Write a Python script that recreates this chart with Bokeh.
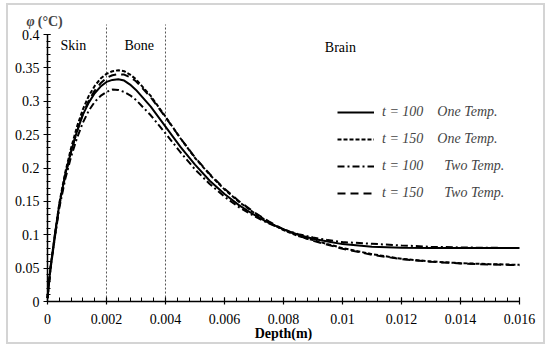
from bokeh.plotting import figure
from bokeh.models import Range1d, FixedTicker, Label
from bokeh.core.properties import value
from bokeh.embed import file_html
from bokeh.resources import INLINE

# ---------------- data ----------------
depth = [0, 0.0001, 0.00025, 0.0004, 0.0006, 0.0008, 0.001, 0.0012, 0.0014, 0.0016,
         0.0018, 0.002, 0.0022, 0.0024, 0.0026, 0.0028, 0.003, 0.0035, 0.004, 0.0045,
         0.005, 0.0055, 0.006, 0.0065, 0.007, 0.0075, 0.008, 0.0085, 0.009, 0.0095,
         0.01, 0.011, 0.012, 0.013, 0.014, 0.015, 0.016]

one_t100 = [0.005, 0.05, 0.10, 0.145, 0.19, 0.225, 0.255, 0.28, 0.298, 0.312,
            0.322, 0.329, 0.332, 0.333, 0.331, 0.325, 0.317, 0.292, 0.262, 0.232,
            0.205, 0.181, 0.161, 0.144, 0.130, 0.118, 0.108, 0.100, 0.094, 0.090,
            0.086, 0.082, 0.0805, 0.080, 0.080, 0.080, 0.080]

one_t150 = [0.005, 0.05, 0.10, 0.147, 0.193, 0.23, 0.262, 0.288, 0.308, 0.323,
            0.334, 0.341, 0.345, 0.3465, 0.345, 0.34, 0.333, 0.308, 0.277, 0.245,
            0.215, 0.19, 0.168, 0.149, 0.133, 0.119, 0.107, 0.098, 0.092, 0.086,
            0.080, 0.071, 0.064, 0.060, 0.0575, 0.056, 0.055]

two_t100 = [0.005, 0.048, 0.096, 0.14, 0.183, 0.217, 0.245, 0.268, 0.286, 0.299,
            0.308, 0.314, 0.3175, 0.317, 0.314, 0.309, 0.302, 0.279, 0.252, 0.224,
            0.198, 0.176, 0.157, 0.141, 0.128, 0.117, 0.108, 0.101, 0.096, 0.092,
            0.089, 0.0865, 0.084, 0.082, 0.081, 0.0805, 0.080]

two_t150 = [0.005, 0.048, 0.097, 0.143, 0.188, 0.224, 0.255, 0.281, 0.301, 0.316,
            0.327, 0.335, 0.339, 0.3405, 0.340, 0.336, 0.330, 0.306, 0.276, 0.245,
            0.216, 0.191, 0.169, 0.150, 0.134, 0.120, 0.108, 0.099, 0.091, 0.085,
            0.079, 0.070, 0.0635, 0.0595, 0.057, 0.0555, 0.0545]

NB = "\u00a0"
series_labels = ["t = 100" + NB * 4 + "One Temp.",
                 "t = 150" + NB * 4 + "One Temp.",
                 "t = 100" + NB * 6 + "Two Temp.",
                 "t = 150" + NB * 6 + "Two Temp."]

x_ticks = [0, 0.002, 0.004, 0.006, 0.008, 0.01, 0.012, 0.014, 0.016]
x_tick_labels = ["0", "0.002", "0.004", "0.006", "0.008", "0.01", "0.012", "0.014", "0.016"]
y_ticks = [0, 0.05, 0.1, 0.15, 0.2, 0.25, 0.3, 0.35, 0.4]
y_tick_labels = ["0", "0.05", "0.1", "0.15", "0.2", "0.25", "0.3", "0.35", "0.4"]

layer_bounds = [0.002, 0.004]
region_names = ["Skin", "Bone", "Brain"]
region_x = [0.00044, 0.00261, 0.0094]
region_y = [0.384, 0.384, 0.381]

FONT = "Liberation Serif"

p = figure(width=535, height=337,
           x_range=Range1d(-0.001186, 0.016678), y_range=Range1d(-0.0584, 0.43),
           output_backend="svg", toolbar_location=None,
           min_border_left=4, min_border_right=4,
           min_border_top=9, min_border_bottom=2)
p.styles = {"margin-left": "8px", "margin-top": "5px",
            "box-shadow": "0 0 0 2px #d4d4d4"}
p.outline_line_color = None
p.xgrid.visible = False
p.ygrid.visible = False
p.background_fill_color = "white"
p.border_fill_color = "white"

# vertical layer boundaries
p.segment(x0=layer_bounds, y0=[0, 0], x1=layer_bounds, y1=[0.415, 0.415],
          line_color="#555555", line_width=1, line_dash="2 2")

styles = [
    dict(line_dash="solid", line_width=2.0),
    dict(line_dash="4 2", line_width=2.0),
    dict(line_dash="7 3 2 3", line_width=2.0),
    dict(line_dash="8 5", line_width=2.0),
]
for ys, lab, st in zip([one_t100, one_t150, two_t100, two_t150], series_labels, styles):
    p.line(depth, ys, line_color="black", legend_label=lab, **st)

# axes
for ax in (p.xaxis[0], p.yaxis[0]):
    ax.axis_line_color = "black"
    ax.axis_line_width = 1.5
    ax.major_tick_line_color = "black"
    ax.minor_tick_line_color = "black"
    ax.major_tick_line_width = 1.2
    ax.minor_tick_line_width = 1
    ax.major_label_text_font = FONT
    ax.major_label_text_font_size = "14px"
    ax.major_label_text_color = "black"

xa = p.xaxis[0]
xa.fixed_location = 0
xa.ticker = FixedTicker(ticks=x_ticks, minor_ticks=[round(i * 0.0004, 6) for i in range(41)])
xa.major_label_overrides = dict(zip(x_ticks, x_tick_labels))
xa.bounds = (0, 0.016)
xa.major_tick_in = 4
xa.major_tick_out = 3
xa.minor_tick_in = 4
xa.minor_tick_out = 0
xa.major_label_standoff = 9
xa.axis_label = "Depth(m)"
xa.axis_label_text_font = FONT
xa.axis_label_text_font_style = "bold"
xa.axis_label_text_font_size = "14px"
xa.axis_label_text_color = "black"
xa.axis_label_standoff = -1

ya = p.yaxis[0]
ya.fixed_location = 0
ya.ticker = FixedTicker(ticks=y_ticks, minor_ticks=[round(i * 0.01, 4) for i in range(41)])
ya.major_label_overrides = dict(zip(y_ticks, y_tick_labels))
ya.bounds = (0, 0.4)
ya.major_tick_in = 3
ya.major_tick_out = 4
ya.minor_tick_in = 3
ya.minor_tick_out = 1
ya.major_label_standoff = 4

# y label at top
p.add_layout(Label(x=-0.00071, y=0.42, text="φ", text_font=FONT, text_font_style="bold italic",
                   text_font_size="14px", text_baseline="middle", text_align="left"))
p.add_layout(Label(x=-0.00033, y=0.42, text="(°C)", text_font=FONT, text_font_style="bold",
                   text_font_size="14px", text_baseline="middle", text_align="left"))

# region names
p.text(x=region_x, y=region_y, text=region_names, text_font=value(FONT),
       text_font_size="14px", text_baseline="middle", text_align="left", text_color="black")

# legend
lg = p.legend[0]
lg.location = (325, 137)
lg.label_text_font = FONT
lg.label_text_font_style = "italic"
lg.label_text_font_size = "14px"
lg.glyph_width = 37
lg.glyph_height = 20
lg.label_height = 20
lg.label_standoff = 8
lg.spacing = 7
lg.padding = 0
lg.margin = 0
lg.border_line_color = None
lg.background_fill_alpha = 0

open("out.html", "w").write(file_html(p, INLINE))
